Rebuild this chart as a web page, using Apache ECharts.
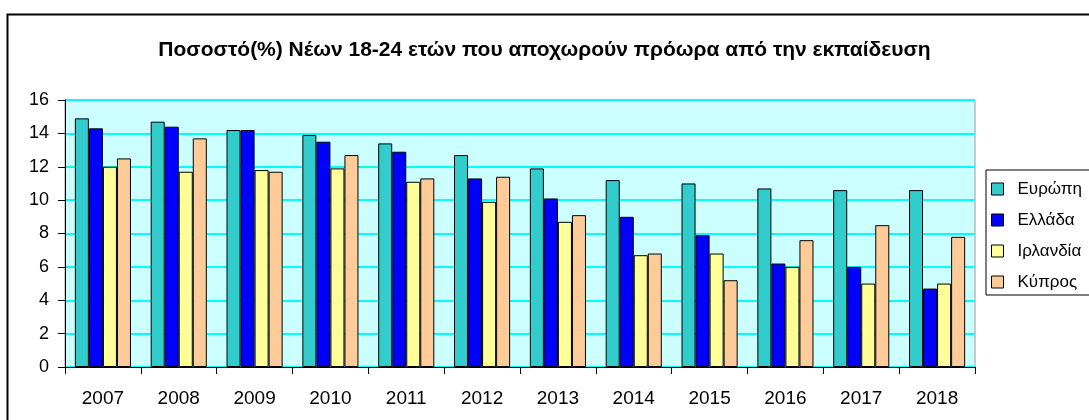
<!DOCTYPE html>
<html>
<head>
<meta charset="utf-8">
<script src="https://cdn.jsdelivr.net/npm/echarts@6/dist/echarts.min.js"></script>
<style>
html, body { margin: 0; padding: 0; background: #fff; }
#main { width: 1089px; height: 420px; }
</style>
</head>
<body>
<div id="main"></div>
<script>
var years = ['2007', '2008', '2009', '2010', '2011', '2012', '2013', '2014', '2015', '2016', '2017', '2018']
var europe = [14.9, 14.7, 14.2, 13.9, 13.4, 12.7, 11.9, 11.2, 11.0, 10.7, 10.6, 10.6]
var greece = [14.3, 14.4, 14.2, 13.5, 12.9, 11.3, 10.1, 9.0, 7.9, 6.2, 6.0, 4.7]
var ireland = [12.0, 11.7, 11.8, 11.9, 11.1, 9.9, 8.7, 6.7, 6.8, 6.0, 5.0, 5.0]
var cyprus = [12.5, 13.7, 11.7, 12.7, 11.3, 11.4, 9.1, 6.8, 5.2, 7.6, 8.5, 7.8]
var names = ['Ευρώπη', 'Ελλάδα', 'Ιρλανδία', 'Κύπρος']
var colors = ['#33cccc', '#0000ff', '#ffff99', '#ffcc99']

var myChart = echarts.init(document.getElementById('main'))

var seriesData = [europe, greece, ireland, cyprus]
var series = []
for (var i = 0; i < seriesData.length; i++) {
    series.push({
        name: names[i],
        type: 'bar',
        barGap: '0%',
        barCategoryGap: '26%',
        itemStyle: {
            color: colors[i],
            borderColor: '#000',
            borderWidth: 1
        },
        data: seriesData[i]
    })
}

var option = {
    animation: false,
    textStyle: { fontFamily: 'Liberation Sans, Arial, sans-serif' },
    graphic: [{
        type: 'rect',
        left: 5,
        top: 12,
        shape: { width: 1200, height: 500 },
        style: { fill: 'none', stroke: '#000', lineWidth: 2 },
        silent: true,
        z: -1
    }],
    title: {
        text: 'Ποσοστό(%) Νέων 18-24 ετών που αποχωρούν πρόωρα από την εκπαίδευση',
        left: 'center',
        top: 35,
        textStyle: {
            fontSize: 21,
            fontWeight: 'bold',
            color: '#000',
            fontFamily: 'Liberation Sans, Arial, sans-serif'
        }
    },
    legend: {
        orient: 'vertical',
        left: 986,
        top: 170,
        padding: [10, 60, 4, 5],
        itemGap: 13,
        itemWidth: 12,
        itemHeight: 12,
        icon: 'rect',
        borderColor: '#000',
        borderWidth: 1,
        itemStyle: { borderColor: '#000', borderWidth: 1 },
        textStyle: { fontSize: 17, lineHeight: 18, color: '#000', padding: [0, 0, 0, 9] },
        data: names
    },
    grid: {
        left: 65,
        right: 114,
        top: 100,
        bottom: 53,
        show: true,
        backgroundColor: '#ccffff',
        borderColor: '#999',
        borderWidth: 1
    },
    xAxis: {
        type: 'category',
        data: years,
        axisLine: { lineStyle: { color: '#000', width: 1 } },
        axisTick: { show: true, length: 7, lineStyle: { color: '#000' } },
        axisLabel: { fontSize: 19, color: '#000', margin: 22 }
    },
    yAxis: {
        type: 'value',
        min: 0,
        max: 16,
        interval: 2,
        axisLine: { show: true, lineStyle: { color: '#000' } },
        axisTick: { show: true, length: 7, lineStyle: { color: '#000' } },
        axisLabel: { fontSize: 18, color: '#000', margin: 16 },
        splitLine: { show: true, lineStyle: { color: '#00ffff', width: 2 } }
    },
    series: series
}
myChart.setOption(option)
</script>
</body>
</html>
